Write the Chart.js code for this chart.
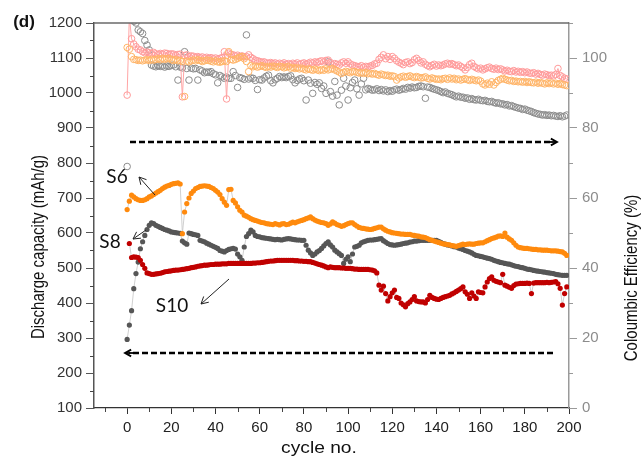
<!DOCTYPE html>
<html>
<head>
<meta charset="utf-8">
<script src="https://cdn.jsdelivr.net/npm/chart.js@4.4.1/dist/chart.umd.min.js"></script>
<style>
  html, body { margin: 0; padding: 0; background: #fff; }
  #wrap { width: 642px; height: 461px; position: relative; }
</style>
</head>
<body>
<div id="wrap"><canvas id="chart" width="642" height="461"></canvas></div>
<script>
var cycles = [];
for (var i = 0; i < 200; i++) { cycles.push(i); }

var capTicks = [100, 200, 300, 400, 500, 600, 700, 800, 900, 1000, 1100, 1200];
var ceTicks = [0, 20, 40, 60, 80, 100];
var cycleTicks = [0, 20, 40, 60, 80, 100, 120, 140, 160, 180, 200];

// discharge capacity (mAh/g)
var capS6 = [
  667,691,708,703,698,695,693,693,695,698,703,706,710,714,718,722,727,731,734,736,
  739,741,742,743,740,598,660,684,700,713,720,727,730,733,734,735,734,733,730,727,
  722,717,710,698,688,679,724,725,693,686,675,665,660,651,648,645,641,638,636,634,
  632,630,629,627,626,625,624,627,625,623,626,627,624,625,628,631,629,632,634,636,
  638,641,643,646,641,637,634,632,630,629,627,622,626,632,628,624,622,619,621,624,
  627,629,629,624,620,616,614,613,612,611,610,611,613,615,617,617,612,608,605,603,
  601,600,599,598,597,597,596,596,596,594,593,592,591,589,588,587,584,581,579,577,
  575,573,571,569,568,567,566,564,563,562,564,566,568,567,568,569,568,568,570,571,
  572,572,575,578,581,584,586,588,591,592,590,600,588,583,579,572,565,560,558,557,
  556,556,555,554,553,553,552,552,551,551,551,550,549,549,549,548,547,546,542,536
];
var capS8 = [
  296,337,378,441,484,517,555,575,593,610,622,629,627,622,619,616,613,610,608,606,
  603,602,601,600,599,577,572,568,600,598,596,595,593,579,577,575,571,568,565,562,
  559,556,550,548,546,550,553,555,556,554,540,532,522,560,590,598,608,603,593,590,
  589,587,586,585,584,583,582,581,582,581,580,582,583,584,583,582,581,580,580,579,
  579,565,551,543,536,540,546,550,556,563,570,575,566,560,551,546,541,536,513,525,
  532,518,540,560,562,565,572,575,577,579,580,580,581,582,583,584,578,574,570,567,
  566,565,566,567,568,570,571,572,574,575,577,577,578,579,579,579,579,579,579,579,
  579,576,573,570,568,566,565,563,561,560,557,555,553,550,548,546,543,539,536,535,
  533,532,530,528,527,525,522,520,518,516,515,513,512,511,509,507,505,504,502,501,
  499,497,496,495,493,492,491,490,489,488,487,486,485,484,482,481,480,479,479,479
];
var capS10 = [
  null,570,530,532,531,530,522,510,499,486,484,482,482,483,484,485,487,489,490,491,
  492,493,494,494,495,496,497,498,499,501,502,503,505,506,507,508,508,509,510,510,
  511,511,511,512,512,512,513,513,513,513,513,513,513,513,513,513,513,514,514,515,
  515,516,517,518,519,520,520,521,522,522,522,522,522,522,522,522,521,521,520,520,
  519,519,518,518,516,514,512,510,508,506,503,501,503,502,501,501,501,500,500,499,
  499,499,498,497,497,496,496,496,496,496,495,494,492,486,451,437,448,427,406,418,
  429,437,416,413,400,395,389,398,403,410,418,406,404,403,403,400,410,422,416,413,
  411,410,413,416,418,420,422,426,429,433,437,441,446,432,425,413,429,420,413,432,
  430,429,446,460,470,475,465,462,460,458,482,451,448,445,442,450,454,455,456,456,
  456,457,456,427,457,458,458,458,458,458,459,458,459,460,461,455,442,394,427,446
];

// coulombic efficiency (%)
var ceS6 = [
  103,102.5,100.4,99.6,99.5,99.3,99.4,99.2,99.4,99.5,99.3,99.6,99.4,99.6,99.8,99.5,99.9,99.6,99.8,99.9,
  99.5,99.3,99.6,99.2,99.3,99.0,89,99.1,98.9,99.2,99.4,99.2,99.5,99.3,99.0,99.2,99.4,99.3,99.1,98.9,
  99.2,98.9,98.8,99.0,99.2,99.0,101.8,99.6,99.4,99.6,99.9,100.2,100.4,99.8,99.0,96.1,97.8,97.5,97.7,97.4,
  97.6,97.8,97.5,97.3,97.6,97.4,97.7,97.5,97.3,97.6,97.5,97.2,97.4,97.6,97.1,97.3,97.0,97.2,96.9,97.1,
  96.8,96.6,96.9,96.7,96.5,96.8,96.6,96.4,96.7,96.5,96.9,96.6,96.8,97.0,96.6,96.3,96.0,95.6,95.9,96.2,
  96.0,95.8,96.1,96.1,95.9,95.7,95.8,95.6,95.9,95.5,95.6,95.4,95.6,95.3,95.1,95.4,95.2,95.0,95.1,94.8,
  94.9,94.7,93.7,94.3,94.6,94.8,94.5,94.7,94.9,94.6,94.4,94.7,94.5,94.3,94.4,94.6,94.2,94.0,94.3,94.1,
  93.9,94.0,93.8,94.1,94.2,93.9,94.3,94.0,94.2,93.8,94.0,93.7,93.9,94.1,93.8,93.6,93.9,93.7,93.5,93.7,
  93.4,92.6,92.3,92.8,92.5,93.2,92.3,93.0,93.6,93.9,94.2,93.9,93.7,93.5,93.6,93.3,93.4,93.2,93.3,93.1,
  93.3,93.0,93.2,93.0,92.9,93.1,92.8,93.0,92.8,92.6,92.9,92.7,92.9,92.6,92.8,92.5,92.7,92.4,92.3,92.1
];
var ceS8 = [
  69,112,111,110.5,110,108,107.5,107,105,103.7,102.3,98,97.7,97.5,97.8,97.6,97.7,97.4,97.7,97.6,
  97.9,98.0,97.5,93.7,97.4,97.2,101.8,97.0,93.7,97.1,96.9,97.0,93.7,96.6,96.3,95.8,96.0,95.9,96.1,95.5,
  95.2,92.9,95.0,94.6,94.2,94.5,94.2,94.2,96.1,95.0,91.6,94.4,94.2,93.9,106.6,94.0,94.3,94.2,93.6,91.0,
  93.8,93.7,94.3,94.8,95.1,93.5,92.9,93.8,94.2,94.7,94.4,94.6,94.4,94.7,94.9,93.8,92.9,93.6,94.0,94.2,
  93.5,88.0,93.7,92.8,89.9,93.0,92.5,92.9,91.3,92.0,89.9,98.9,90.4,89.1,93.3,89.4,86.6,90.8,94.2,92.0,
  88.0,91.5,93.0,93.7,91.2,89.4,92.6,94.2,90.9,91.3,91.1,90.8,90.9,91.2,90.7,91.0,90.6,90.9,90.4,90.7,
  90.5,90.9,91.1,90.8,91.0,91.3,91.1,91.6,91.4,91.7,91.5,91.6,91.9,92.0,91.8,88.5,91.7,91.6,91.3,91.1,
  90.9,90.7,90.4,90.1,90.3,89.9,89.7,89.5,89.2,88.9,89.1,88.8,88.8,88.5,88.6,88.2,88.4,88.1,88.0,88.2,
  87.9,87.8,87.9,87.6,87.5,87.6,87.3,87.1,87.2,86.9,86.9,86.6,86.7,86.3,86.4,86.1,85.9,85.7,85.6,85.3,
  85.4,85.1,84.9,84.7,84.4,84.2,84.0,83.9,83.7,83.8,83.6,83.7,83.5,83.6,83.4,83.3,83.5,83.2,83.4,83.7
];
var ceS10 = [
  89.4,112,105.5,104,103.2,102.5,102.3,101.8,101.5,101.7,101.5,101.3,101.6,101.2,101.0,101.3,101.1,101.4,101.3,101.0,
  101.2,101.1,100.8,101.0,101.1,88.9,100.7,100.9,100.4,100.6,100.5,100.2,100.4,100.1,100.3,100.0,100.2,99.9,100.1,99.8,
  100.0,99.7,99.9,100.1,101.8,88.3,101.4,101.0,100.9,100.6,100.8,100.4,100.6,100.3,100.4,100.9,100.2,99.8,99.4,99.2,
  99.0,98.8,98.9,98.6,98.5,98.7,98.4,98.6,98.3,98.5,98.3,98.6,98.2,98.4,98.1,98.5,98.3,98.6,98.2,98.4,
  98.6,98.3,98.5,98.8,98.6,98.9,98.7,99.0,99.2,98.9,99.3,99.4,98.7,98.0,98.4,98.2,98.0,98.6,98.9,98.5,
  98.9,98.3,98.0,97.8,97.6,97.5,97.8,97.4,97.6,97.5,97.7,97.9,98.3,98.5,99.6,100.2,100.9,99.8,100.4,99.6,
  100.4,99.9,99.2,98.8,98.5,98.1,98.7,98.9,98.4,98.7,99.5,99.9,99.3,98.6,98.9,98.2,97.8,97.5,97.9,98.2,
  97.7,98.0,97.8,98.0,98.3,98.5,98.2,98.4,98.1,97.8,98.0,97.6,97.2,96.6,97.3,98.1,98.5,97.6,97.2,96.9,
  97.1,96.6,96.9,97.2,97.4,97.0,96.8,97.1,96.7,96.9,96.6,96.3,96.5,96.2,96.1,96.4,96.0,96.2,95.9,96.1,
  95.8,96.0,95.7,95.6,95.8,95.4,95.6,95.3,95.1,95.4,95.2,95.0,95.1,94.9,95.3,97.0,95.0,94.6,94.2,94.0
];

(function() {
  var tickFont = { family: 'Liberation Sans, Arial, sans-serif', size: 15 };

  function plain(value) { return String(value); }

  function capSet(data, color) {
    return {
      data: data, yAxisID: 'y', showLine: true,
      borderColor: '#c4c4c4', borderWidth: 0.8,
      pointRadius: 2.6, pointBackgroundColor: color, pointBorderColor: color, pointBorderWidth: 0
    };
  }
  function ceSet(data, color, line) {
    return {
      data: data, yAxisID: 'y2', showLine: !!line,
      borderColor: line || color, borderWidth: 1,
      pointRadius: 3.3, pointBackgroundColor: 'rgba(0,0,0,0)', pointBorderColor: color, pointBorderWidth: 1
    };
  }

  function line(ctx, x1, y1, x2, y2) {
    ctx.beginPath(); ctx.moveTo(x1, y1); ctx.lineTo(x2, y2); ctx.stroke();
  }
  function arrow(ctx, x1, y1, x2, y2, head) {
    line(ctx, x1, y1, x2, y2);
    var a = Math.atan2(y2 - y1, x2 - x1);
    ctx.beginPath();
    ctx.moveTo(x2 - head * Math.cos(a - 0.5), y2 - head * Math.sin(a - 0.5));
    ctx.lineTo(x2, y2);
    ctx.lineTo(x2 - head * Math.cos(a + 0.5), y2 - head * Math.sin(a + 0.5));
    ctx.stroke();
  }
  // the source figure is stretched sideways a bit, so titles get a stretch too
  function vTitle(ctx, text, x, y) {
    ctx.save(); ctx.translate(x, y); ctx.rotate(-Math.PI / 2); ctx.scale(1, 1.2);
    ctx.fillText(text, 0, 0); ctx.restore();
  }

  var overlay = {
    id: 'overlay',
    afterDraw: function(chart) {
      var ctx = chart.ctx, a = chart.chartArea;
      var sx = chart.scales.x, sy = chart.scales.y, sy2 = chart.scales.y2;
      var v;
      ctx.save();

      // frame top + minor ticks
      ctx.strokeStyle = '#6a6a6a'; ctx.lineWidth = 1.5;
      line(ctx, a.left, a.top, a.right, a.top);
      ctx.strokeStyle = '#444'; ctx.lineWidth = 1;
      for (v = -10; v < 200; v += 20) {
        var px = Math.round(sx.getPixelForValue(v)) + 0.5;
        line(ctx, px, a.bottom, px, a.bottom + 4);
      }
      for (v = 150; v < 1200; v += 100) {
        var py = Math.round(sy.getPixelForValue(v)) + 0.5;
        line(ctx, a.left - 4, py, a.left, py);
      }
      ctx.strokeStyle = '#999';
      for (v = 10; v <= 110; v += 20) {
        var py2 = Math.round(sy2.getPixelForValue(v)) + 0.5;
        line(ctx, a.right, py2, a.right + 4, py2);
      }

      // axis titles
      ctx.fillStyle = '#111';
      ctx.font = '15px Liberation Sans, Arial, sans-serif';
      ctx.textAlign = 'center'; ctx.textBaseline = 'middle';
      vTitle(ctx, 'Discharge capacity (mAh/g)', 39, 247);
      vTitle(ctx, 'Coloumbic Efficiency (%)', 632, 278);
      ctx.save(); ctx.translate(319, 449); ctx.scale(1.2, 1);
      ctx.font = '16px Liberation Sans, Arial, sans-serif';
      ctx.fillText('cycle no.', 0, 0); ctx.restore();
      ctx.font = 'bold 17px Liberation Sans, Arial, sans-serif';
      ctx.fillText('(d)', 24, 22);

      // sample labels
      ctx.font = '19px Lato, sans-serif';
      ctx.fillText('S6', 117, 177);
      ctx.fillText('S8', 110, 242);
      ctx.fillText('S10', 172, 306);
      ctx.strokeStyle = '#222'; ctx.lineWidth = 1;
      arrow(ctx, 155, 195, 139, 177, 8);
      arrow(ctx, 146, 230, 133, 239, 8);
      arrow(ctx, 229, 279, 201, 304, 8);

      // dashed direction arrows
      ctx.strokeStyle = '#000'; ctx.lineWidth = 2.4;
      ctx.setLineDash([6, 3]);
      line(ctx, 130, 142, 553, 142);
      line(ctx, 553, 353, 129, 353);
      ctx.setLineDash([]);
      ctx.lineWidth = 1.8;
      arrow(ctx, 548, 142, 557, 142, 7);
      arrow(ctx, 134, 353, 125, 353, 7);
      ctx.restore();
    }
  };

  var chartData = {
    labels: cycles,
    datasets: [
      capSet(capS6, '#ff8a0d'),
      capSet(capS10, '#c00000'),
      capSet(capS8, '#565656'),
      ceSet(ceS6, '#ffb468'),
      ceSet(ceS10, '#ff9a9a', '#ffa5a5'),
      ceSet(ceS8, '#8c8c8c')
    ]
  };

  var chartOptions = {
    responsive: false,
    animation: false,
    layout: { padding: { top: 23, left: 0, right: 0, bottom: 0 } },
    plugins: { legend: { display: false }, tooltip: { enabled: false } },
    elements: { point: { hitRadius: 0, hoverRadius: 0 } },
    scales: {
      x: {
        type: 'linear', min: -15, max: 200,
        afterBuildTicks: function(s) { s.ticks = cycleTicks.map(function(t) { return { value: t }; }); },
        afterFit: function(s) { s.height = 53; },
        border: { color: '#333', width: 1.3 },
        grid: { drawOnChartArea: false, drawTicks: true, tickLength: 6, tickColor: '#333' },
        ticks: { color: '#222', font: tickFont, padding: 5, maxRotation: 0, autoSkip: false, callback: plain }
      },
      y: {
        position: 'left', min: 100, max: 1200,
        afterBuildTicks: function(s) { s.ticks = capTicks.map(function(t) { return { value: t }; }); },
        afterFit: function(s) { s.width = 94; },
        border: { color: '#555', width: 1.5 },
        grid: { drawOnChartArea: false, drawTicks: true, tickLength: 8, tickColor: '#555' },
        ticks: { color: '#333', font: tickFont, padding: 4, autoSkip: false, callback: plain }
      },
      y2: {
        position: 'right', min: 0, max: 110,
        afterBuildTicks: function(s) { s.ticks = ceTicks.map(function(t) { return { value: t }; }); },
        afterFit: function(s) { s.width = 73; },
        border: { color: '#9a9a9a', width: 1.5 },
        grid: { drawOnChartArea: false, drawTicks: true, tickLength: 8, tickColor: '#9a9a9a' },
        ticks: { color: '#8c8c8c', font: tickFont, padding: 5, autoSkip: false, callback: plain }
      }
    }
  };

  var ctx = document.getElementById('chart').getContext('2d');
  new Chart(ctx, { type: 'line', data: chartData, options: chartOptions, plugins: [overlay] });
})();
</script>
</body>
</html>
